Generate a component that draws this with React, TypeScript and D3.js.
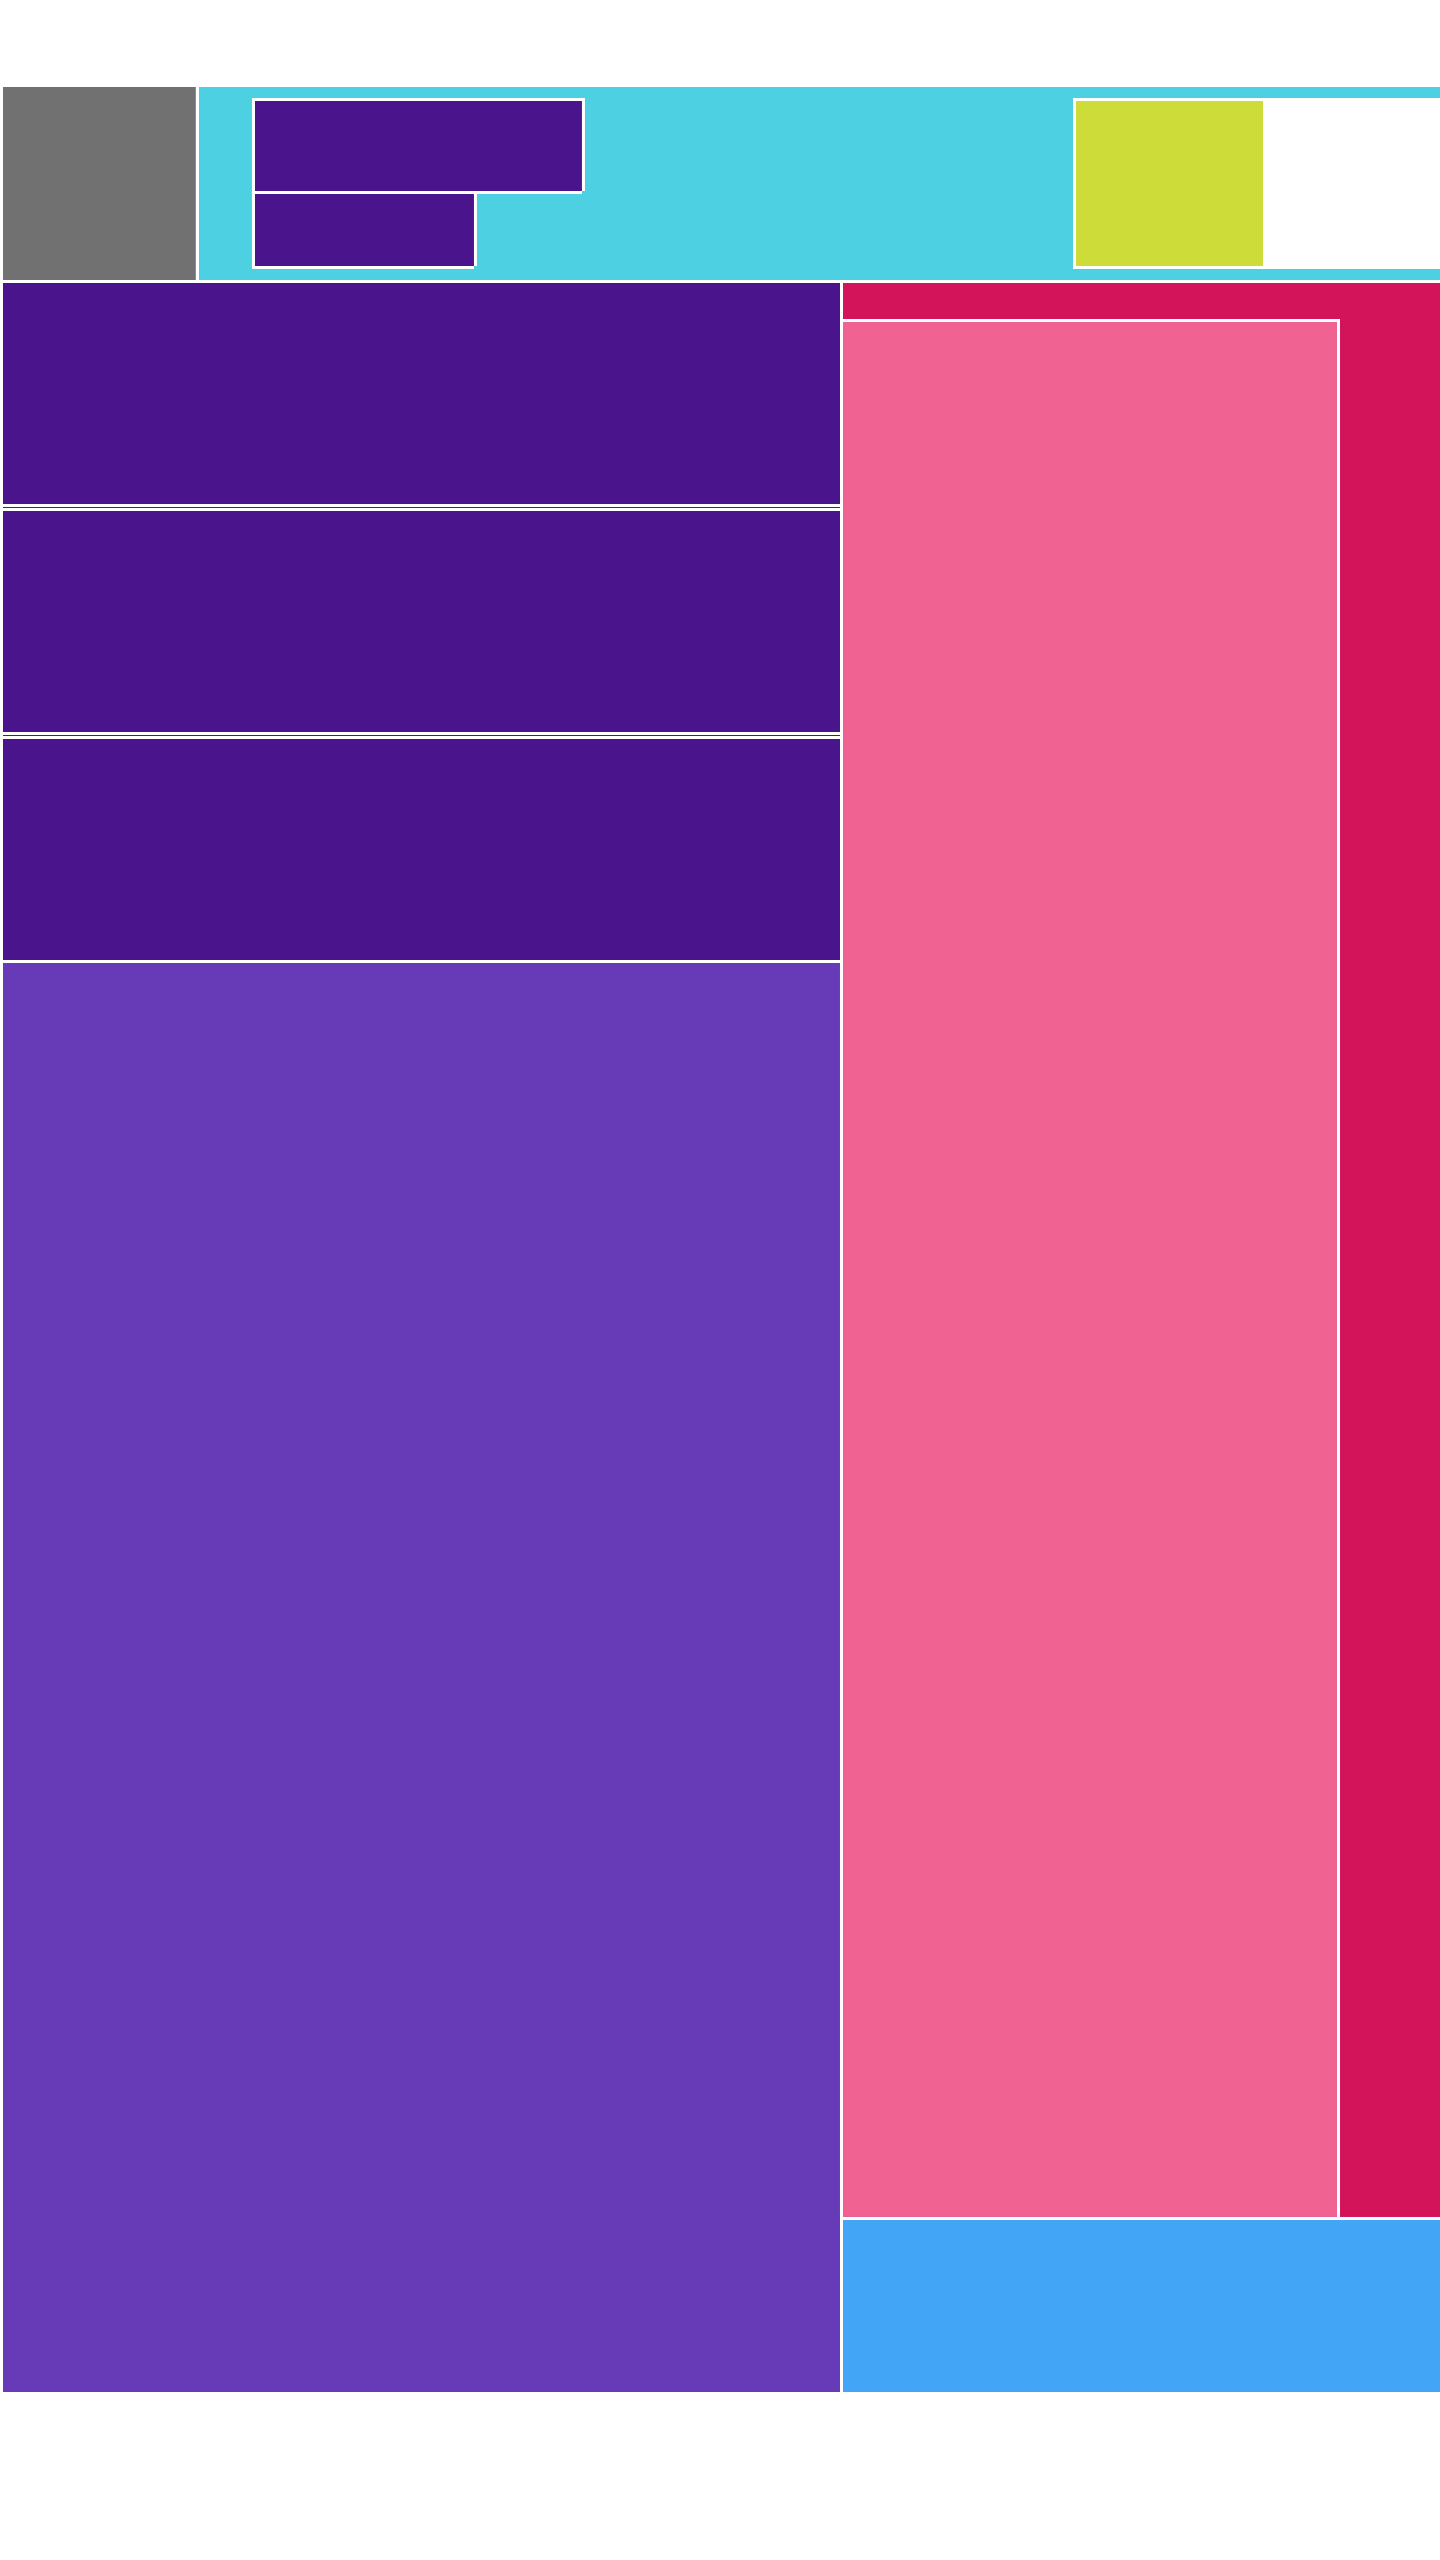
import { useMemo } from "react"
import * as d3 from "d3"

// flat hierarchy: id, parent, leaf value (0 = group)
const NODE_IDS = [
  "root", "top", "bottom",
  "gray", "cyan",
  "gapA", "column", "gapB", "yGroup",
  "purple1", "purpleRow", "purple2", "gapC",
  "yellow", "gapD",
  "left", "right",
  "purpleGroup", "lightPurple",
  "band1", "band2", "band3",
  "crimson", "blue",
  "pink", "gapE",
]
const NODE_PARENTS = [
  "", "root", "root",
  "top", "top",
  "cyan", "cyan", "cyan", "cyan",
  "column", "column", "purpleRow", "purpleRow",
  "yGroup", "yGroup",
  "bottom", "bottom",
  "left", "left",
  "purpleGroup", "purpleGroup", "purpleGroup",
  "right", "right",
  "crimson", "crimson",
]
const NODE_VALUES = [
  0, 0, 0,
  38.4, 0,
  10.98, 0, 96.24, 0,
  35.8, 0, 19.43, 9.45,
  37.24, 35.67,
  0, 0,
  0, 1202.9,
  190.4, 190.4, 190.4,
  0, 105.9,
  962.7, 209.2,
]

// styling / layout config (kept apart from the data)
const COLORS: Record<string, string> = {
  gray: "#717171",
  cyan: "#4dd0e1",
  yGroup: "#ffffff",
  purple1: "#4a148c",
  purple2: "#4a148c",
  yellow: "#cddc39",
  purpleGroup: "#4a148c",
  band1: "#4a148c",
  band2: "#4a148c",
  band3: "#4a148c",
  lightPurple: "#673ab7",
  crimson: "#d4145a",
  pink: "#f06292",
  blue: "#42a5f5",
}
const HORIZONTAL = new Set(["top", "bottom", "cyan", "purpleRow", "yGroup", "crimson"])
const PAD_TOP: Record<string, number> = { cyan: 14, crimson: 39 }
const PAD_BOTTOM: Record<string, number> = { cyan: 14 }
const PAD_INNER: Record<string, number> = { purpleGroup: 4 }

const W = 1445, H = 2308, OX = 1.5, OY = 85.5, SW = 3

export default function App() {
  const nodes = useMemo(() => {
    const table = NODE_IDS.map((id, i) => ({ id, parent: NODE_PARENTS[i], value: NODE_VALUES[i] }))
    const root = d3.stratify<{ id: string; parent: string; value: number }>()
      .id(d => d.id)
      .parentId(d => d.parent || null)(table)
      .sum(d => d.value)
    const tile = (node: any, x0: number, y0: number, x1: number, y1: number) =>
      (HORIZONTAL.has(node.id) ? d3.treemapDice : d3.treemapSlice)(node, x0, y0, x1, y1)
    d3.treemap<any>()
      .size([W, H])
      .tile(tile)
      .paddingTop((d: any) => PAD_TOP[d.id] ?? 0)
      .paddingBottom((d: any) => PAD_BOTTOM[d.id] ?? 0)
      .paddingInner((d: any) => PAD_INNER[d.id] ?? 0)(root)
    return root.descendants().filter(d => COLORS[d.id!]) as d3.HierarchyRectangularNode<any>[]
  }, [])

  const h = SW / 2
  return (
    <svg width={1440} height={2560}
      style={{ position: "absolute", left: 0, top: 0, background: "#fff", display: "block" }}>
      <g transform={`translate(${OX},${OY})`}>
        {nodes.map(d => {
          const p = d3.path()
          p.moveTo(d.x1, d.y1 - h)
          p.lineTo(d.x1, d.y0)
          p.lineTo(d.x0, d.y0)
          p.lineTo(d.x0, d.y1)
          p.lineTo(d.x1 - h, d.y1)
          return (
            <g key={d.id}>
              <rect x={d.x0 + h} y={d.y0 + h}
                width={Math.max(0, d.x1 - d.x0 - SW)} height={Math.max(0, d.y1 - d.y0 - SW)}
                fill={COLORS[d.id!]} />
              <path d={p.toString()} fill="none" stroke="#fff" strokeWidth={SW} />
            </g>
          )
        })}
      </g>
    </svg>
  )
}
